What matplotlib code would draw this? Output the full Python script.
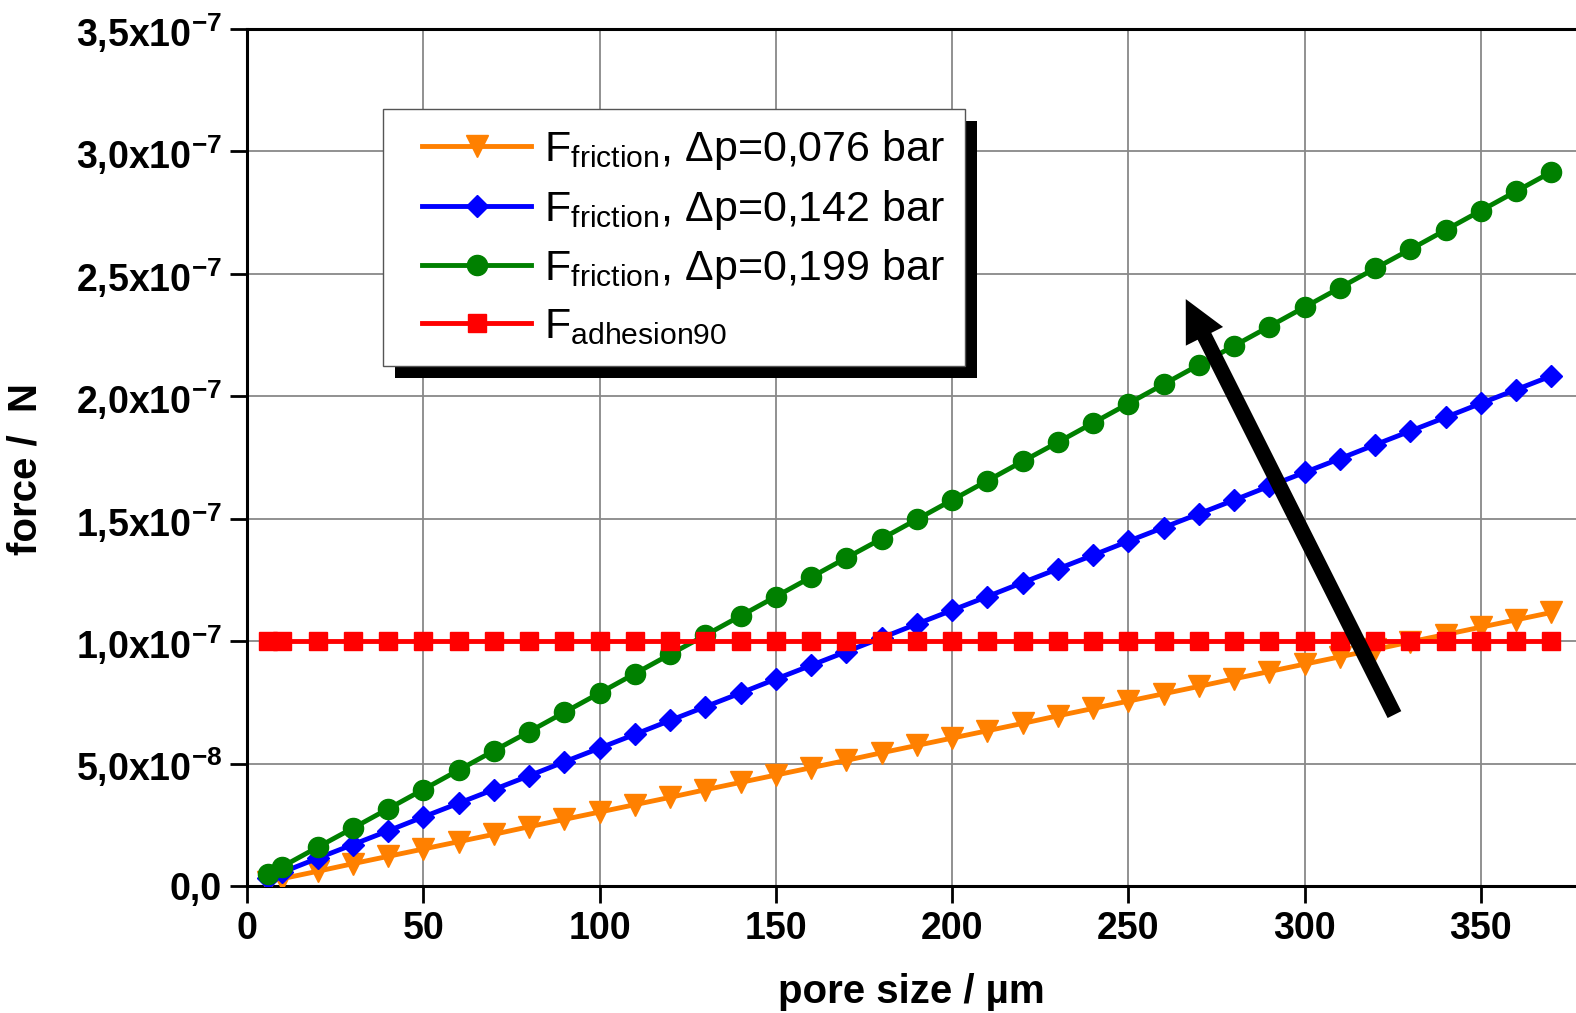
import numpy as np
import matplotlib
matplotlib.use('Agg')
import matplotlib.pyplot as plt
from matplotlib.patches import Rectangle, FancyArrowPatch
from matplotlib.lines import Line2D
from matplotlib.legend_handler import HandlerLine2D

plt.rcParams['font.family'] = ['Liberation Sans', 'DejaVu Sans']
plt.rcParams['mathtext.fontset'] = 'custom'
plt.rcParams['mathtext.rm'] = 'Liberation Sans'
plt.rcParams['mathtext.it'] = 'Liberation Sans:italic'
plt.rcParams['mathtext.bf'] = 'Liberation Sans:bold'

# pore size / um
pore = [6, 10, 20, 30, 40, 50, 60, 70, 80, 90, 100, 110, 120, 130, 140, 150, 160, 170, 180,
        190, 200, 210, 220, 230, 240, 250, 260, 270, 280, 290, 300, 310, 320, 330, 340, 350, 360, 370]

# forces in units of 1e-7 N
f_076 = [0.018, 0.030, 0.060, 0.091, 0.121, 0.151, 0.181, 0.211, 0.242, 0.272, 0.302, 0.332, 0.362,
         0.393, 0.423, 0.453, 0.483, 0.513, 0.544, 0.574, 0.604, 0.634, 0.664, 0.695, 0.725, 0.755,
         0.785, 0.815, 0.846, 0.876, 0.906, 0.936, 0.966, 0.997, 1.027, 1.057, 1.087, 1.117]
f_142 = [0.034, 0.056, 0.113, 0.169, 0.225, 0.282, 0.338, 0.394, 0.450, 0.507, 0.563, 0.619, 0.676,
         0.732, 0.788, 0.845, 0.901, 0.957, 1.013, 1.070, 1.126, 1.182, 1.239, 1.295, 1.351, 1.408,
         1.464, 1.520, 1.576, 1.633, 1.689, 1.745, 1.802, 1.858, 1.914, 1.971, 2.027, 2.083]
f_199 = [0.047, 0.079, 0.158, 0.236, 0.315, 0.394, 0.473, 0.552, 0.630, 0.709, 0.788, 0.867, 0.946,
         1.024, 1.103, 1.182, 1.261, 1.340, 1.418, 1.497, 1.576, 1.655, 1.734, 1.812, 1.891, 1.970,
         2.049, 2.128, 2.206, 2.285, 2.364, 2.443, 2.522, 2.600, 2.679, 2.758, 2.837, 2.916]
f_adh = [1.0] * 38

labels = [r'F$_{\mathregular{friction}}$, Δp=0,076 bar',
          r'F$_{\mathregular{friction}}$, Δp=0,142 bar',
          r'F$_{\mathregular{friction}}$, Δp=0,199 bar',
          r'F$_{\mathregular{adhesion90}}$']

yticks = [0, 0.5, 1.0, 1.5, 2.0, 2.5, 3.0, 3.5]
yticklabels = ['0,0', r'5,0x10$^{\mathbf{-8}}$', r'1,0x10$^{\mathbf{-7}}$', r'1,5x10$^{\mathbf{-7}}$',
               r'2,0x10$^{\mathbf{-7}}$', r'2,5x10$^{\mathbf{-7}}$', r'3,0x10$^{\mathbf{-7}}$',
               r'3,5x10$^{\mathbf{-7}}$']
xticks = [0, 50, 100, 150, 200, 250, 300, 350]

x = np.array(pore)
fig = plt.figure(figsize=(15.76, 10.13), dpi=100)
ax = fig.add_axes([247/1576, 127/1013, 1 - 247/1576, 857/1013])

ax.plot(x, f_076, color='#ff8000', lw=3.5, marker='v', ms=16.5, mec='#ff8000', label=labels[0], zorder=3)
ax.plot(x, f_142, color='#0000ff', lw=3.5, marker='D', ms=11.5, mec='#0000ff', label=labels[1], zorder=3)
ax.plot(x, f_199, color='#008000', lw=3.5, marker='o', ms=14.5, mec='#008000', label=labels[2], zorder=3)
ax.plot(x, f_adh, color='#ff0000', lw=3.5, marker='s', ms=12.5, mec='#ff0000', label=labels[3], zorder=3)

ax.set_xlim(0, 377)
ax.set_ylim(0, 3.5)
ax.set_xticks(xticks)
ax.set_xticklabels([str(t) for t in xticks])
ax.set_yticks(yticks)
ax.set_yticklabels(yticklabels)
ax.grid(True, color='#888888', lw=1.3)
ax.set_axisbelow(True)
ax.tick_params(direction='out', length=12, width=2, labelsize=27, pad=6)
for lab in ax.get_xticklabels() + ax.get_yticklabels():
    lab.set_fontweight('bold')
for s in ['left', 'bottom', 'top']:
    ax.spines[s].set_linewidth(2.2)
ax.spines['right'].set_visible(False)

ax.set_xlabel('pore size / µm', fontsize=29, fontweight='bold')
ax.set_ylabel('force /  N', fontsize=29, fontweight='bold')
ax.xaxis.set_label_coords(0.5, -0.102)
ax.yaxis.set_label_coords(-0.152, 0.486)

leg = ax.legend(loc='upper left', bbox_to_anchor=(0.1023, 0.9067), fontsize=31, handlelength=3.0,
                handletextpad=0.3, labelspacing=0.36, borderpad=0.45, borderaxespad=0,
                fancybox=False, framealpha=1, edgecolor='#555555',
                handler_map={Line2D: HandlerLine2D(xpad=0.45)})
leg.get_frame().set_linewidth(1)

arrow = FancyArrowPatch((325.5, 0.70), (266.3, 2.397),
                        arrowstyle='simple,head_length=3.0,head_width=3.0,tail_width=1.1',
                        mutation_scale=10, color='k', lw=0, shrinkA=0, shrinkB=0, zorder=4)
ax.add_patch(arrow)

fig.canvas.draw()
bb = leg.get_window_extent()
shadow = Rectangle((bb.x0 + 12, bb.y0 - 12), bb.width, bb.height, transform=None,
                   facecolor='k', edgecolor='none', zorder=4.9)
ax.add_artist(shadow)

fig.savefig('out.png', dpi=100)
